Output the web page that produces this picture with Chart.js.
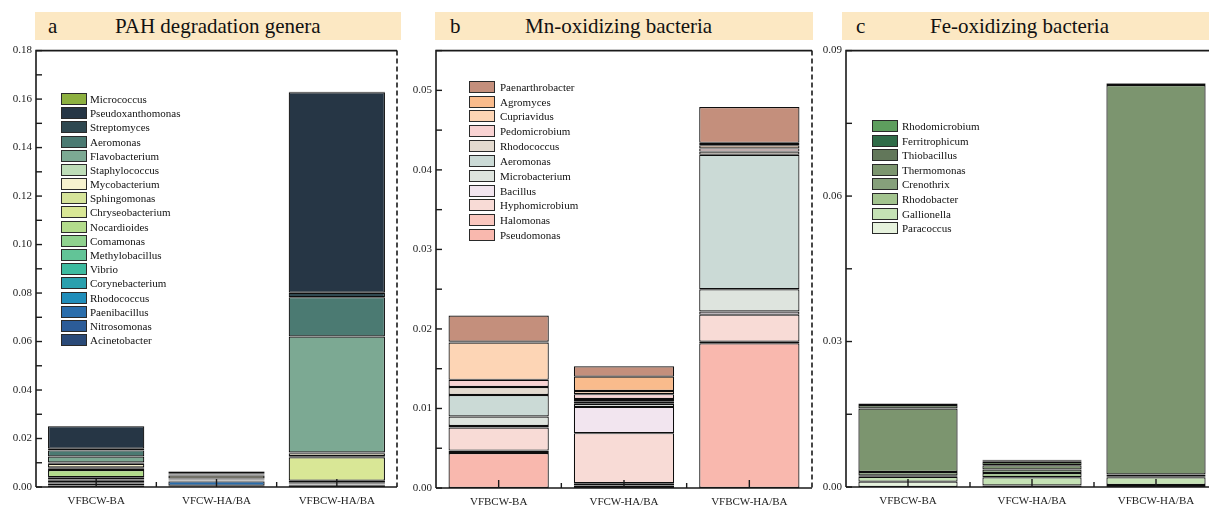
<!DOCTYPE html>
<html><head><meta charset="utf-8">
<script src="https://cdn.jsdelivr.net/npm/chart.js@4.4.1/dist/chart.umd.min.js"></script>
<style>
html,body{margin:0;padding:0;width:1209px;height:509px;overflow:hidden;background:#fff;font-family:'Liberation Serif','Times New Roman',serif;}
.wrap{position:relative;width:1209px;height:509px;overflow:hidden;}
canvas{position:absolute;top:40px;}
.tbar{position:absolute;top:12px;height:28px;background:#FCE8C3;}
.tl{position:absolute;top:12px;height:28px;line-height:28px;font-size:21px;color:#111;white-space:nowrap;}
.lg{position:absolute;height:12px;line-height:12px;font-size:11px;color:#111;white-space:nowrap;}
.sw{position:absolute;box-sizing:border-box;width:26px;height:12px;border:1.5px solid #2a2a2a;}
</style></head>
<body><div class="wrap" id="wrap">
<div class="tbar" style="left:35px;width:366px"></div>
<div class="tbar" style="left:435px;width:378px"></div>
<div class="tbar" style="left:842px;width:367px"></div>
<div class="tl" style="left:48px">a</div>
<div class="tl" style="left:115px">PAH degradation genera</div>
<div class="tl" style="left:450px">b</div>
<div class="tl" style="left:525px">Mn-oxidizing bacteria</div>
<div class="tl" style="left:856px">c</div>
<div class="tl" style="left:930px">Fe-oxidizing bacteria</div>
<canvas id="ca" width="400" height="469" style="left:0px"></canvas>
<canvas id="cb" width="414" height="469" style="left:400px"></canvas>
<canvas id="cc" width="412" height="469" style="left:810px"></canvas>
</div>
<script>
// ---------- DATA ----------
const categories = ['VFBCW-BA', 'VFCW-HA/BA', 'VFBCW-HA/BA'];

// Panel a: PAH degradation genera (legend order, top to bottom)
const pahGenera = ['Micrococcus','Pseudoxanthomonas','Streptomyces','Aeromonas','Flavobacterium','Staphylococcus','Mycobacterium','Sphingomonas','Chryseobacterium','Nocardioides','Comamonas','Methylobacillus','Vibrio','Corynebacterium','Rhodococcus','Paenibacillus','Nitrosomonas','Acinetobacter'];
const pahVFBCW_BA    = [0.0001,0.0093,0.0007,0.0025,0.0025,0.0005,0.0015,0.0006,0.0005,0.0030,0.0003,0.0006,0.0003,0.0003,0.0005,0.0006,0.0008,0.0006];
const pahVFCW_HA_BA  = [0.0001,0.0007,0.0004,0.0002,0.0002,0.0002,0.0012,0.0003,0.0002,0.0001,0.0001,0.0001,0.0001,0.0001,0.0002,0.0018,0.0003,0.0002];
const pahVFBCW_HA_BA = [0.0002,0.0827,0.0018,0.0162,0.0479,0.0003,0.0012,0.0004,0.0097,0.0008,0.0004,0.0002,0.0001,0.0001,0.0001,0.0002,0.0003,0.0004];
const pahTicks = [0, 0.18, 0.02, 0.01]; // min, max, label step, minor step

// Panel b: Mn-oxidizing bacteria
const mnGenera = ['Paenarthrobacter','Agromyces','Cupriavidus','Pedomicrobium','Rhodococcus','Aeromonas','Microbacterium','Bacillus','Hyphomicrobium','Halomonas','Pseudomonas'];
const mnVFBCW_BA    = [0.0033,0.0001,0.0047,0.0009,0.0010,0.0027,0.0012,0.0002,0.0029,0.0003,0.0044];
const mnVFCW_HA_BA  = [0.0013,0.0018,0.0004,0.0006,0.0003,0.0003,0.0004,0.0033,0.0063,0.0003,0.0003];
const mnVFBCW_HA_BA = [0.0045,0.0003,0.0004,0.0004,0.0004,0.0169,0.0028,0.0004,0.0034,0.0002,0.0182];
const mnTicks = [0, 0.055, 0.01, 0.005];

// Panel c: Fe-oxidizing bacteria
const feGenera = ['Rhodomicrobium','Ferritrophicum','Thiobacillus','Thermomonas','Crenothrix','Rhodobacter','Gallionella','Paracoccus'];
const feVFBCW_BA    = [0.0001,0.0002,0.0007,0.0131,0.0007,0.0003,0.0010,0.0011];
const feVFCW_HA_BA  = [0.0001,0.0003,0.0007,0.0009,0.0007,0.0009,0.0017,0.0003];
const feVFBCW_HA_BA = [0.0001,0.0001,0.0002,0.0803,0.0004,0.0002,0.0016,0.0004];
const feTicks = [0, 0.09, 0.03, 0.015];

// ---------- STYLES ----------
const pahColors = ['#8DB040','#263645','#2F4850','#4B7A72','#7CA993','#BEDDB8','#F6F2CF','#D6E49A','#D9E796','#B3DC8C','#8FD18E','#62C497','#3DBBA0','#2AA0AE','#1F8DBA','#2A6DAB','#2C5C98','#2A4A78'];
const mnColors = ['#C48F7C','#F9BB8C','#FDD5B5','#F9D3D3','#E3DACF','#CBDAD6','#DEE4DE','#F2E5EF','#F8DBD6','#FAC7BF','#F9B8AE'];
const feColors = ['#5E9E5E','#2F6B48','#62775A','#7C956F','#86A07B','#A3C48F','#C5E2B5','#E6F2DD'];
const FONT = "'Liberation Serif','Times New Roman',serif";

const frame = {
  id: 'frame',
  afterDatasetsDraw(chart) {
    const o = chart.options.plugins.frame;
    const {ctx, chartArea: ca, scales: {x, y}} = chart;
    ctx.save();
    ctx.strokeStyle = '#1a1a1a';
    ctx.lineWidth = 1.6;
    ctx.beginPath();
    ctx.moveTo(ca.left, ca.bottom); ctx.lineTo(ca.left, ca.top); ctx.lineTo(ca.right, ca.top);
    ctx.moveTo(ca.left, ca.bottom); ctx.lineTo(ca.right, ca.bottom);
    ctx.stroke();
    if (o.dashRight) {
      ctx.setLineDash([5, 3]);
      ctx.beginPath(); ctx.moveTo(ca.right, ca.top); ctx.lineTo(ca.right, ca.bottom); ctx.stroke();
      ctx.setLineDash([]);
    }
    ctx.lineWidth = 1.4;
    const n = Math.round((o.max - o.min) / o.minor);
    for (let i = 0; i <= n; i++) {
      const py = y.getPixelForValue(o.min + i * o.minor);
      ctx.beginPath(); ctx.moveTo(ca.left, py); ctx.lineTo(ca.left + 6, py); ctx.stroke();
    }
    const k = chart.data.labels.length;
    for (let i = 0; i < k; i++) {
      const px = x.getPixelForValue(i);
      ctx.beginPath(); ctx.moveTo(px, ca.bottom); ctx.lineTo(px, ca.bottom - 8); ctx.stroke();
    }
    for (let i = 1; i < k; i++) {
      const px = (x.getPixelForValue(i - 1) + x.getPixelForValue(i)) / 2;
      ctx.beginPath(); ctx.moveTo(px, ca.bottom); ctx.lineTo(px, ca.bottom - 5); ctx.stroke();
    }
    ctx.restore();
  }
};

function makeChart(id, genera, series, colors, ticks, pad, xh, dashRight) {
  const datasets = [];
  for (let g = genera.length - 1; g >= 0; g--) {
    datasets.push({
      label: genera[g],
      data: series.map(s => s[g]),
      backgroundColor: colors[g],
      borderColor: '#0d0d0d',
      borderWidth: 1.2,
      borderSkipped: false,
      categoryPercentage: 1,
      barPercentage: 0.8
    });
  }
  const [mn, mx, step, minor] = ticks;
  new Chart(document.getElementById(id), {
    type: 'bar',
    data: { labels: categories, datasets },
    options: {
      responsive: false, animation: false, devicePixelRatio: 1,
      layout: { padding: pad },
      plugins: { legend: { display: false }, tooltip: { enabled: false },
        frame: { min: mn, max: mx, minor: minor, dashRight: dashRight } },
      scales: {
        x: { stacked: true, grid: { display: false, drawTicks: false }, border: { display: false },
             ticks: { font: { family: FONT, size: 11 }, color: '#222', padding: 8, maxRotation: 0, autoSkip: false },
             afterFit: s => { s.height = xh; } },
        y: { stacked: true, min: mn, max: mx,
             grid: { display: false, drawTicks: false }, border: { display: false },
             ticks: { stepSize: step, font: { family: FONT, size: 11 }, color: '#222', padding: 4,
                      callback: v => v.toFixed(2) },
             afterBuildTicks: s => { s.ticks = s.ticks.filter(t => Math.abs(t.value / step - Math.round(t.value / step)) < 1e-6); },
             afterFit: s => { s.width = 36; } }
      }
    },
    plugins: [frame]
  });
}

makeChart('ca', pahGenera, [pahVFBCW_BA, pahVFCW_HA_BA, pahVFBCW_HA_BA], pahColors, pahTicks, {top: 4, right: 3, left: 0, bottom: 0}, 22, true);
makeChart('cb', mnGenera, [mnVFBCW_BA, mnVFCW_HA_BA, mnVFBCW_HA_BA], mnColors, mnTicks, {top: 2, right: 2, left: 0, bottom: 0}, 21, true);
makeChart('cc', feGenera, [feVFBCW_BA, feVFCW_HA_BA, feVFBCW_HA_BA], feColors, feTicks, {top: 3, right: 4, left: 0, bottom: 0}, 22, false);

function legend(genera, colors, swLeft, txtLeft, firstCenter, pitch) {
  const wrap = document.getElementById('wrap');
  genera.forEach((g, i) => {
    const cy = firstCenter + i * pitch;
    const sw = document.createElement('div');
    sw.className = 'sw';
    sw.style.left = swLeft + 'px'; sw.style.top = (cy - 6) + 'px'; sw.style.background = colors[i];
    wrap.appendChild(sw);
    const t = document.createElement('div');
    t.className = 'lg';
    t.style.left = txtLeft + 'px'; t.style.top = (cy - 6) + 'px';
    t.textContent = g;
    wrap.appendChild(t);
  });
}
legend(pahGenera, pahColors, 61, 90, 99, 14.18);
legend(mnGenera, mnColors, 469, 500, 86.7, 14.83);
legend(feGenera, feColors, 872, 902, 126, 14.6);
</script>
</body></html>
